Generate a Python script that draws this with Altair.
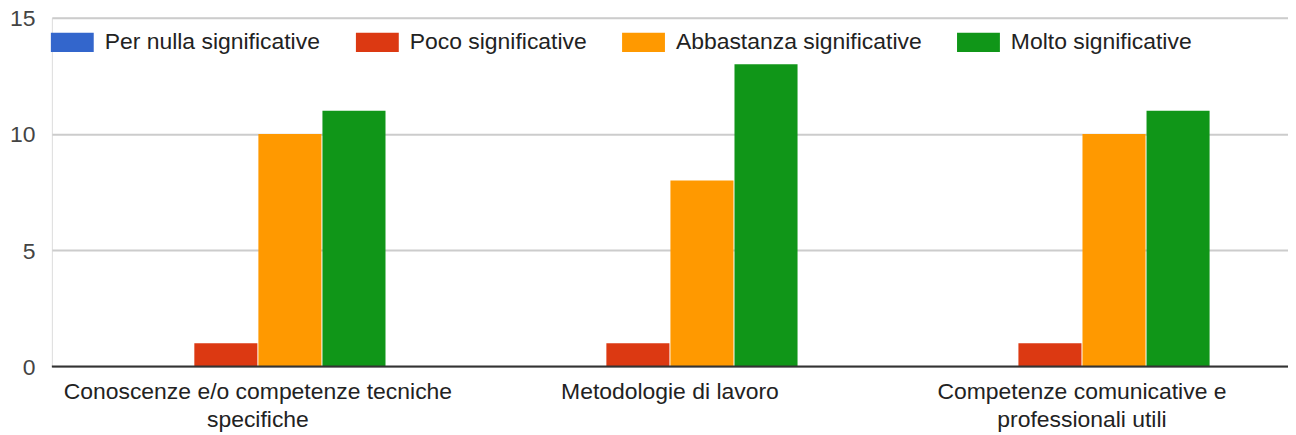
import altair as alt
import pandas as pd

categories = [
    "Conoscenze e/o competenze tecniche specifiche",
    "Metodologie di lavoro",
    "Competenze comunicative e professionali utili",
]
category_lines = [
    ["Conoscenze e/o competenze tecniche", "specifiche"],
    ["Metodologie di lavoro"],
    ["Competenze comunicative e", "professionali utili"],
]
series = [
    "Per nulla significative",
    "Poco significative",
    "Abbastanza significative",
    "Molto significative",
]
per_nulla = [0, 0, 0]
poco = [1, 1, 1]
abbastanza = [10, 8, 10]
molto = [11, 13, 11]
colors = ["#3366cc", "#dc3912", "#ff9900", "#109618"]
y_ticks = [0, 5, 10, 15]

rows = []
for s, vals in zip(series, [per_nulla, poco, abbastanza, molto]):
    for c, v in zip(categories, vals):
        rows.append({"categoria": c, "serie": s, "valore": v})
df = pd.DataFrame(rows)

# build multi-line label expression
expr = "datum.label"
for c, lines in reversed(list(zip(categories, category_lines))):
    arr = "[" + ",".join("'" + l + "'" for l in lines) + "]"
    expr = f"datum.label == '{c}' ? {arr} : ({expr})"

FONT = "Liberation Sans"
FS = 23

bars = alt.Chart(df).mark_bar().encode(
    x=alt.X(
        "categoria:N",
        sort=categories,
        title=None,
        scale=alt.Scale(paddingInner=0.3806, paddingOuter=0.1903),
        axis=alt.Axis(
            labelAngle=0,
            labelExpr=expr,
            labelFontSize=FS,
            labelColor="#222222",
            labelFont=FONT,
            labelLineHeight=28,
            labelPadding=14,
            ticks=False,
            domain=False,
            labelLimit=600,
        ),
    ),
    xOffset=alt.XOffset(
        "serie:N",
        sort=series,
        scale=alt.Scale(paddingOuter=0, paddingInner=1 / 64),
    ),
    y=alt.Y(
        "valore:Q",
        title=None,
        scale=alt.Scale(domain=[0, 15], nice=False),
        axis=alt.Axis(
            values=y_ticks,
            labelFontSize=FS,
            labelColor="#444444",
            labelFont=FONT,
            labelPadding=17,
            labelBaseline="alphabetic",
            labelOffset=8,
            ticks=False,
            domain=False,
            gridColor="#cccccc",
            gridWidth=2,
        ),
    ),
    color=alt.Color(
        "serie:N",
        sort=series,
        scale=alt.Scale(domain=series, range=colors),
        legend=alt.Legend(
            title=None,
            orient="none",
            direction="horizontal",
            legendX=-1,
            legendY=3,
            symbolType="M-1,-0.45H1V0.45H-1Z",
            symbolSize=1849,
            symbolStrokeWidth=0,
            symbolOpacity=1,
            labelFontSize=FS,
            labelFont=FONT,
            labelColor="#222222",
            labelOffset=11,
            columnPadding=35,
            labelLimit=400,
        ),
    ),
)

baseline = alt.Chart(pd.DataFrame({"y": [0]})).mark_rule(
    color="#333333", strokeWidth=2
).encode(y=alt.Y("y:Q"))

chart = (
    alt.layer(bars, baseline)
    .properties(
        width=1240,
        height=350,
        autosize=alt.AutoSizeParams(type="none"),
        padding={"left": 44, "top": 9, "right": 0, "bottom": 67},
    )
    .configure_view(stroke=None)
    .configure(font=FONT)
)

chart.save("out.html", embed_options={"renderer": "svg", "actions": False})
